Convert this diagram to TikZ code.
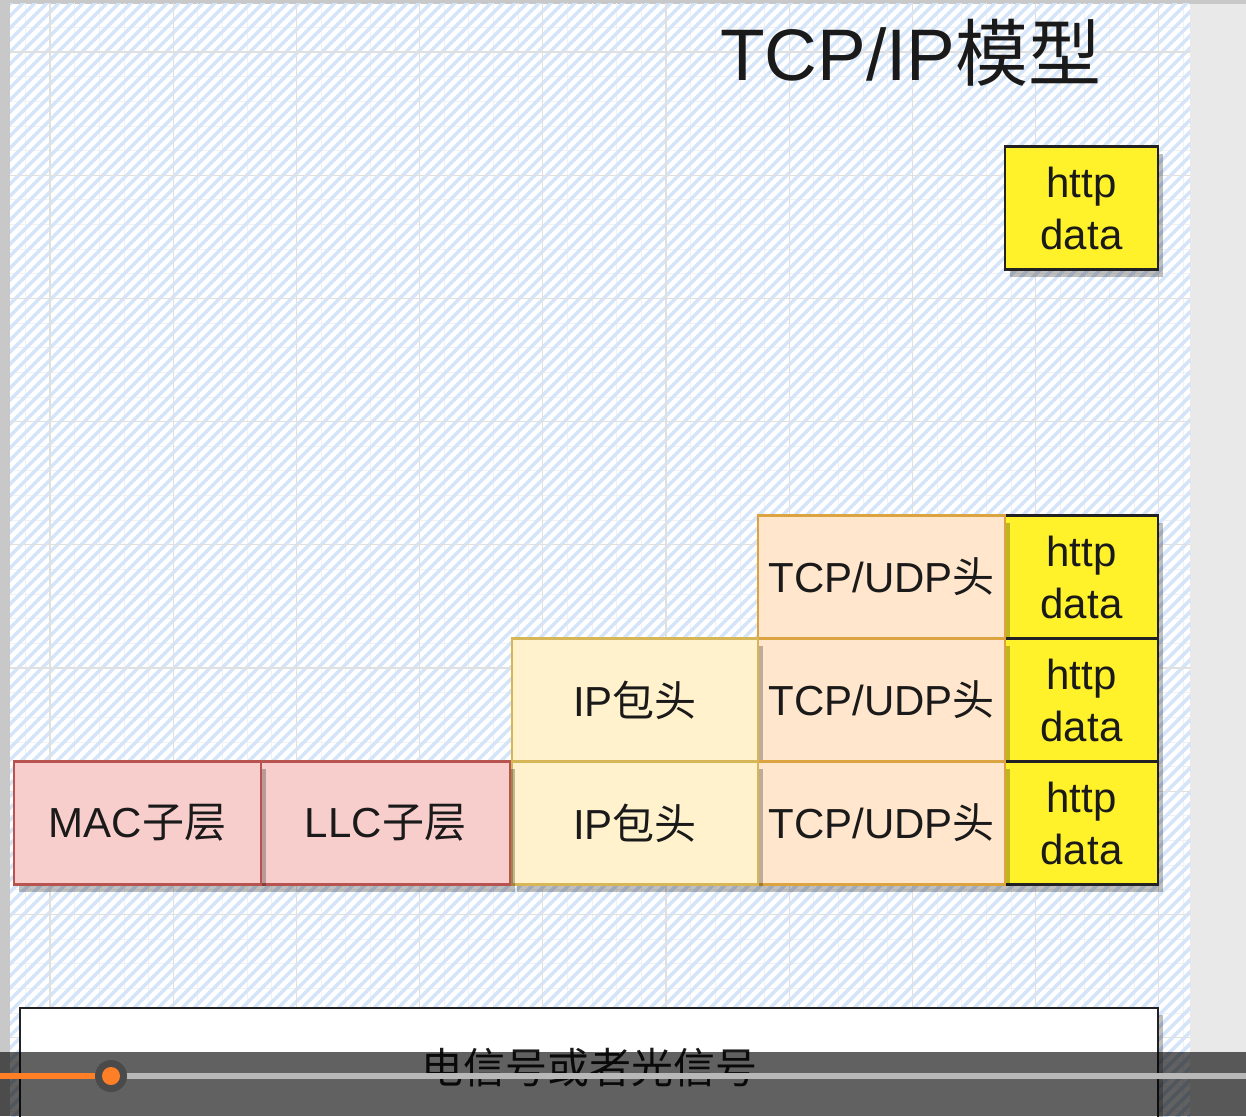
\documentclass[tikz,border=0pt]{standalone}
\usepackage{fontspec}
\setmainfont{Liberation Sans}
\newfontfamily\cjk{Noto Sans CJK SC}
\usetikzlibrary{shadows}
\definecolor{frame}{HTML}{C8C8C8}
\definecolor{sidebg}{HTML}{E9E9E9}
\definecolor{hatch}{HTML}{D4E4F9}
\definecolor{gridmaj}{HTML}{E0E0E0}
\definecolor{gridmin}{HTML}{F2F2F2}
\definecolor{txt}{HTML}{1A1A1A}
\definecolor{redfill}{HTML}{F8CECC}
\definecolor{redline}{HTML}{B85450}
\definecolor{ipfill}{HTML}{FFF2CC}
\definecolor{ipline}{HTML}{D6B656}
\definecolor{tcpfill}{HTML}{FFE6CC}
\definecolor{tcpline}{HTML}{DCA440}
\definecolor{yel}{HTML}{FFF22A}
\definecolor{yelline}{HTML}{222222}
\definecolor{prog}{HTML}{FF7F27}
\definecolor{track}{HTML}{B8B8B8}
\definecolor{knob}{HTML}{4A4A4A}
\begin{document}
\begin{tikzpicture}[x=1pt,y=-1pt,
  box/.style={draw, line width=2.5pt, inner sep=0pt, text=txt, align=center,
    font=\fontsize{42}{52}\selectfont,
    drop shadow={shadow xshift=5pt, shadow yshift=-7pt, opacity=0.25, fill=black}},
  redbox/.style={box, fill=redfill, draw=redline, minimum height=123pt},
  ipbox/.style={box, fill=ipfill, draw=ipline, minimum width=246pt, minimum height=123pt},
  tcpbox/.style={box, fill=tcpfill, draw=tcpline, minimum width=247pt, minimum height=123pt},
  httpbox/.style={box, fill=yel, draw=yelline, minimum width=153pt, minimum height=123pt},
  physbox/.style={box, fill=white, draw=yelline, minimum width=1138pt, minimum height=120pt}]
\useasboundingbox (0,0) rectangle (1246,1116);
\clip (0,0) rectangle (1246,1116);
% page background
\fill[frame] (0,0) rectangle (1246,1116);
\fill[sidebg] (1190,4) rectangle (1246,1116);
\fill[white] (10,4) rectangle (1190,1116);
\begin{scope}
  \clip (10,4) rectangle (1190,1116);
  \foreach \i in {0,...,48} {
    \draw[gridmin, line width=0.8pt] ({50+24.64*(\i-2)},0) -- ({50+24.64*(\i-2)},1116);
    \draw[gridmin, line width=0.8pt] (0,{52+24.64*(\i-3)}) -- (1246,{52+24.64*(\i-3)});
  }
  \foreach \a in {-1130,-1118,...,1250} {
    \draw[hatch, line width=3.5pt] (\a,1120) -- ({\a+1120},0);
  }
  \foreach \i in {0,...,9} {
    \draw[gridmaj, line width=1.3pt] ({50+123.2*\i},0) -- ({50+123.2*\i},1116);
    \draw[gridmaj, line width=1.3pt] (0,{52+123.2*\i}) -- (1246,{52+123.2*\i});
  }
\end{scope}
% title
\node[text=txt, font=\fontsize{73}{80}\selectfont, anchor=west, inner sep=0pt] (title) at (720,53) {TCP/IP{\cjk 模型}};
% application layer
\node[httpbox] (http0) at (1081.5,208) {http\\data};
% transport layer row
\node[httpbox] (http1) at (1081.5,577) {http\\data};
\node[tcpbox] (tcp1) at (881.5,577) {TCP/UDP{\cjk 头}};
% network layer row
\node[httpbox] (http2) at (1081.5,700) {http\\data};
\node[tcpbox] (tcp2) at (881.5,700) {TCP/UDP{\cjk 头}};
\node[ipbox] (ip2) at (635,700) {IP{\cjk 包头}};
% data link row
\node[httpbox] (http3) at (1081.5,823) {http\\data};
\node[tcpbox] (tcp3) at (881.5,823) {TCP/UDP{\cjk 头}};
\node[ipbox] (ip3) at (635,823) {IP{\cjk 包头}};
\node[redbox, minimum width=249pt] (llc) at (385.5,823) {LLC{\cjk 子层}};
\node[redbox, minimum width=247pt] (mac) at (137.5,823) {MAC{\cjk 子层}};
% physical layer
\node[physbox] (phys) at (589,1068) {{\cjk 电信号或者光信号}};
% video player overlay
\fill[black, opacity=0.62] (0,1052) rectangle (1246,1116);
\draw[track, line width=6pt] (111,1076) -- (1246,1076);
\draw[prog, line width=6pt] (0,1076) -- (111,1076);
\fill[knob] (111,1076) circle (16);
\fill[prog] (111,1076) circle (9);
\end{tikzpicture}
\end{document}
